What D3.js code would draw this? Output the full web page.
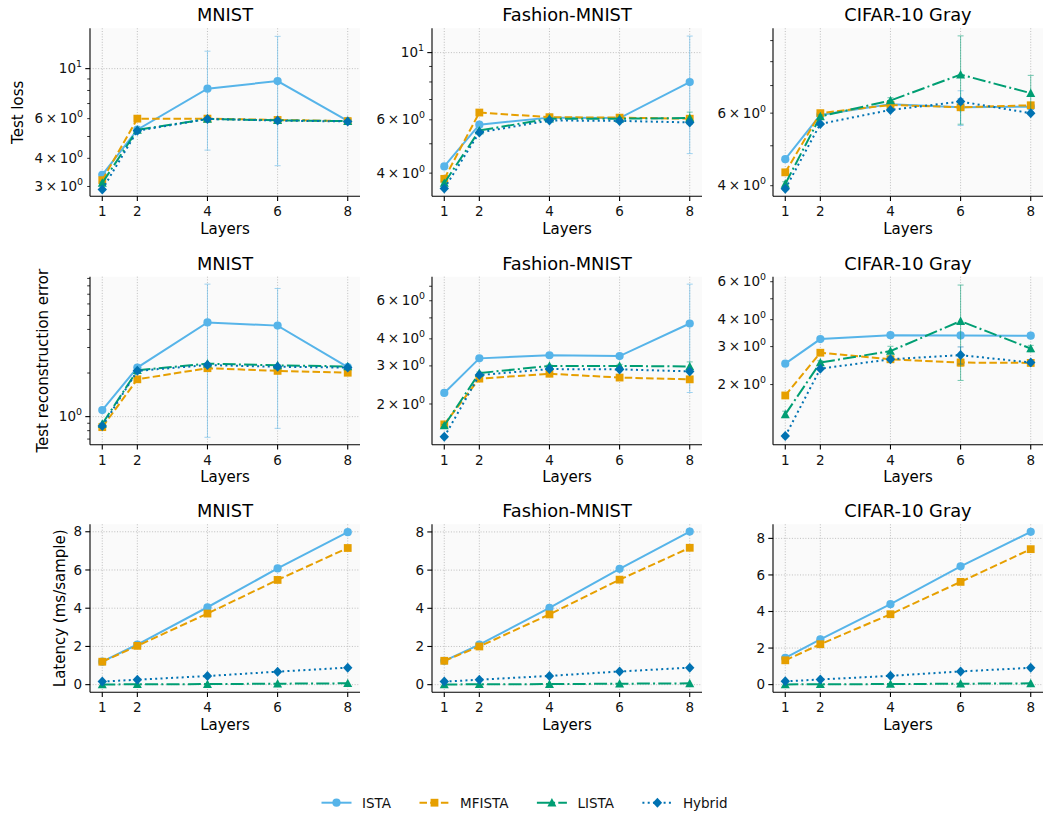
<!DOCTYPE html>
<html>
<head>
<meta charset="utf-8">
<script src="https://cdn.jsdelivr.net/npm/d3@7"></script>
<style>
  body { margin: 0; background: #fff; }
  svg { font-family: "DejaVu Sans", sans-serif; display: block; }
</style>
</head>
<body>
<svg id="chart" width="1049" height="815"></svg>
<script>
// x categories and series order
const layers = [1, 2, 4, 6, 8];
const methods = ['ISTA', 'MFISTA', 'LISTA', 'Hybrid'];
const colors = ['#56B4E9', '#E69F00', '#009E73', '#0072B2'];
const datasets = ['MNIST', 'Fashion-MNIST', 'CIFAR-10 Gray'];
const rowLabels = ['Test loss', 'Test reconstruction error', 'Latency (ms/sample)'];

// Test loss (rows: ISTA, MFISTA, LISTA, Hybrid)
const mnistLoss = [
  [3.38, 5.36, 8.15, 8.81, 5.86],
  [3.20, 6.00, 6.00, 5.92, 5.85],
  [3.11, 5.35, 5.98, 5.90, 5.85],
  [2.91, 5.30, 5.98, 5.88, 5.83]
];
const mnistLossErr = [
  [0.05, 0.10, 3.80, 5.10, 0.10],
  [0.03, 0.05, 0.05, 0.05, 0.05],
  [0.03, 0.05, 0.05, 0.05, 0.05],
  [0.03, 0.05, 0.05, 0.05, 0.05]
];
const fashionLoss = [
  [4.21, 5.78, 6.10, 6.08, 7.99],
  [3.83, 6.34, 6.12, 6.10, 6.05],
  [3.71, 5.53, 6.05, 6.05, 6.08],
  [3.56, 5.45, 5.97, 5.95, 5.88]
];
const fashionLossErr = [
  [0.05, 0.10, 0.05, 0.05, 3.35],
  [0.03, 0.05, 0.05, 0.05, 0.05],
  [0.03, 0.05, 0.05, 0.05, 0.28],
  [0.03, 0.05, 0.05, 0.05, 0.05]
];
const cifarLoss = [
  [4.64, 5.94, 6.31, 6.20, 6.22],
  [4.31, 6.00, 6.28, 6.20, 6.27],
  [4.04, 5.89, 6.44, 7.44, 6.71],
  [3.93, 5.65, 6.11, 6.40, 6.00]
];
const cifarLossErr = [
  [0.03, 0.05, 0.05, 0.60, 0.05],
  [0.03, 0.05, 0.05, 0.10, 0.05],
  [0.05, 0.05, 0.10, 1.80, 0.70],
  [0.03, 0.05, 0.05, 0.10, 0.05]
];

// Test reconstruction error
const mnistRecon = [
  [1.11, 2.18, 4.47, 4.25, 2.20],
  [0.846, 1.81, 2.16, 2.07, 2.01],
  [0.89, 2.09, 2.32, 2.26, 2.22],
  [0.86, 2.07, 2.27, 2.21, 2.18]
];
const mnistReconErr = [
  [0.02, 0.05, 3.75, 3.42, 0.05],
  [0.01, 0.03, 0.03, 0.03, 0.03],
  [0.01, 0.03, 0.03, 0.03, 0.03],
  [0.01, 0.03, 0.03, 0.03, 0.03]
];
const fashionRecon = [
  [2.25, 3.25, 3.36, 3.33, 4.71],
  [1.61, 2.62, 2.76, 2.65, 2.60],
  [1.59, 2.78, 3.00, 3.00, 2.98],
  [1.41, 2.72, 2.90, 2.89, 2.83]
];
const fashionReconErr = [
  [0.02, 0.03, 0.03, 0.03, 2.45],
  [0.02, 0.03, 0.03, 0.03, 0.03],
  [0.02, 0.03, 0.03, 0.05, 0.15],
  [0.02, 0.03, 0.03, 0.03, 0.03]
];
const cifarRecon = [
  [2.50, 3.25, 3.39, 3.38, 3.37],
  [1.78, 2.81, 2.62, 2.53, 2.52],
  [1.455, 2.53, 2.86, 3.94, 2.94],
  [1.153, 2.37, 2.62, 2.74, 2.53]
];
const cifarReconErr = [
  [0.02, 0.03, 0.03, 0.03, 0.03],
  [0.02, 0.03, 0.03, 0.10, 0.03],
  [0.05, 0.05, 0.15, 1.85, 0.10],
  [0.02, 0.03, 0.03, 0.25, 0.03]
];

// Latency (ms/sample)
const mnistLat = [
  [1.20, 2.10, 4.05, 6.08, 7.98],
  [1.20, 2.03, 3.72, 5.48, 7.15],
  [0.01, 0.02, 0.03, 0.05, 0.07],
  [0.16, 0.26, 0.45, 0.68, 0.89]
];
const fashionLat = [
  [1.25, 2.10, 4.02, 6.07, 8.02],
  [1.25, 2.00, 3.68, 5.50, 7.17],
  [0.01, 0.02, 0.03, 0.05, 0.07],
  [0.16, 0.26, 0.46, 0.69, 0.89]
];
const cifarLat = [
  [1.46, 2.48, 4.40, 6.47, 8.36],
  [1.33, 2.21, 3.85, 5.62, 7.41],
  [0.01, 0.02, 0.03, 0.05, 0.07],
  [0.18, 0.28, 0.48, 0.72, 0.92]
];

// y tick setup per panel
const latTicks = [0, 2, 4, 6, 8];

const panels = [
  { row: 0, col: 0, data: mnistLoss, err: mnistLossErr, log: true, domain: [2.714, 15.1],
    labels: [3, 4, 6, 10], minor: [3, 4, 5, 6, 7, 8, 9] },
  { row: 0, col: 1, data: fashionLoss, err: fashionLossErr, log: true, domain: [3.354, 12.03],
    labels: [4, 6, 10], minor: [4, 5, 6, 7, 8, 9] },
  { row: 0, col: 2, data: cifarLoss, err: cifarLossErr, log: true, domain: [3.77, 9.64],
    labels: [4, 6], minor: [4, 5, 6, 7, 8, 9] },
  { row: 1, col: 0, data: mnistRecon, err: mnistReconErr, log: true, domain: [0.64, 9.25],
    labels: [1], minor: [0.7, 0.8, 0.9, 2, 3, 4, 5, 6, 7, 8, 9] },
  { row: 1, col: 1, data: fashionRecon, err: fashionReconErr, log: true, domain: [1.297, 7.75],
    labels: [2, 3, 4, 6], minor: [2, 3, 4, 5, 6, 7] },
  { row: 1, col: 2, data: cifarRecon, err: cifarReconErr, log: true, domain: [1.052, 6.33],
    labels: [2, 3, 4, 6], minor: [2, 3, 4, 5, 6] },
  { row: 2, col: 0, data: mnistLat, err: null, log: false, domain: [-0.40, 8.39] },
  { row: 2, col: 1, data: fashionLat, err: null, log: false, domain: [-0.40, 8.40] },
  { row: 2, col: 2, data: cifarLat, err: null, log: false, domain: [-0.42, 8.77] }
];

// layout
const lefts = [90, 432, 773];
const tops = [28.3, 276.7, 524.3];
const pw = 270, ph = 168;
const tickFont = 13.5, labelFont = 15, titleFont = 17.8;
const dashes = [null, '7.5,3.2', '13,3.2,2,3.2', '2,3.3'];

const svg = d3.select('#chart');

// marker shapes
function marker(g, i, x, y) {
  const c = colors[i];
  if (i === 0) {
    g.append('circle').attr('cx', x).attr('cy', y).attr('r', 4.1).attr('fill', c);
  } else if (i === 1) {
    g.append('rect').attr('x', x - 3.9).attr('y', y - 3.9).attr('width', 7.8).attr('height', 7.8).attr('fill', c);
  } else if (i === 2) {
    g.append('path').attr('d', `M${x},${y - 4.6}L${x + 4.5},${y + 3.8}L${x - 4.5},${y + 3.8}Z`).attr('fill', c);
  } else {
    g.append('path').attr('d', `M${x},${y - 5}L${x + 4.7},${y}L${x},${y + 5}L${x - 4.7},${y}Z`).attr('fill', c);
  }
}

// tick label text like "6 × 10^0"
function logLabel(g, v, x, y) {
  const e = Math.floor(Math.log10(v) + 1e-9);
  const m = Math.round(v / Math.pow(10, e));
  const t = g.append('text').attr('x', x).attr('y', y + 4.6)
    .attr('text-anchor', 'end').attr('font-size', tickFont).attr('fill', '#111');
  t.append('tspan').text(m === 1 ? '10' : m + '\u2009\u00d7\u200910');
  t.append('tspan').attr('dy', -6).attr('font-size', tickFont * 0.7).text(e);
}

panels.forEach(p => {
  const left = lefts[p.col], top = tops[p.row];
  const right = left + pw, bottom = top + ph;
  const g = svg.append('g');

  const x = d3.scaleLinear().domain([0.65, 8.35]).range([left, right]);
  const y = (p.log ? d3.scaleLog() : d3.scaleLinear()).domain(p.domain).range([bottom, top]);

  g.append('rect').attr('x', left).attr('y', top).attr('width', pw).attr('height', ph).attr('fill', '#fafafa');

  // major y ticks (powers of 10 for log)
  let majors;
  if (p.log) {
    majors = [0.1, 1, 10, 100].filter(v => v >= p.domain[0] && v <= p.domain[1]);
  } else {
    majors = latTicks;
  }

  // grid
  layers.forEach(l => {
    g.append('line').attr('x1', x(l)).attr('x2', x(l)).attr('y1', top).attr('y2', bottom)
      .attr('stroke', '#b0b0b0').attr('stroke-width', 0.8).attr('stroke-dasharray', '1,1.7');
  });
  majors.forEach(v => {
    g.append('line').attr('x1', left).attr('x2', right).attr('y1', y(v)).attr('y2', y(v))
      .attr('stroke', '#b0b0b0').attr('stroke-width', 0.8).attr('stroke-dasharray', '1,1.7');
  });

  // series
  p.data.forEach((vals, i) => {
    const c = colors[i];
    if (p.err) {
      vals.forEach((v, j) => {
        const e = p.err[i][j];
        const lo = y(v - e), hi = y(v + e), xx = x(layers[j]);
        const eg = g.append('g').attr('stroke', c).attr('stroke-width', 1).attr('opacity', 0.55);
        eg.append('line').attr('x1', xx).attr('x2', xx).attr('y1', lo).attr('y2', hi);
        eg.append('line').attr('x1', xx - 3).attr('x2', xx + 3).attr('y1', lo).attr('y2', lo);
        eg.append('line').attr('x1', xx - 3).attr('x2', xx + 3).attr('y1', hi).attr('y2', hi);
      });
    }
    const line = d3.line().x((d, j) => x(layers[j])).y(d => y(d));
    g.append('path').attr('d', line(vals)).attr('fill', 'none').attr('stroke', c)
      .attr('stroke-width', 2).attr('stroke-dasharray', dashes[i]);
    vals.forEach((v, j) => marker(g, i, x(layers[j]), y(v)));
  });

  // spines
  g.append('line').attr('x1', left).attr('x2', left).attr('y1', top).attr('y2', bottom)
    .attr('stroke', '#000').attr('stroke-width', 1.1);
  g.append('line').attr('x1', left).attr('x2', right).attr('y1', bottom).attr('y2', bottom)
    .attr('stroke', '#000').attr('stroke-width', 1.1);

  // x ticks
  layers.forEach(l => {
    g.append('line').attr('x1', x(l)).attr('x2', x(l)).attr('y1', bottom).attr('y2', bottom + 4.7)
      .attr('stroke', '#000').attr('stroke-width', 1.1);
    g.append('text').attr('x', x(l)).attr('y', bottom + 20).attr('text-anchor', 'middle')
      .attr('font-size', tickFont).attr('fill', '#111').text(l);
  });

  // y ticks
  majors.forEach(v => {
    g.append('line').attr('x1', left - 4.7).attr('x2', left).attr('y1', y(v)).attr('y2', y(v))
      .attr('stroke', '#000').attr('stroke-width', 1.1);
    if (p.log) logLabel(g, v, left - 8, y(v));
    else g.append('text').attr('x', left - 8).attr('y', y(v) + 4.7).attr('text-anchor', 'end')
      .attr('font-size', tickFont).attr('fill', '#111').text(v);
  });
  if (p.log) {
    p.minor.forEach(v => {
      g.append('line').attr('x1', left - 2.8).attr('x2', left).attr('y1', y(v)).attr('y2', y(v))
        .attr('stroke', '#000').attr('stroke-width', 0.8);
      if (p.labels.includes(v) && !majors.includes(v)) logLabel(g, v, left - 7, y(v));
    });
  }

  // title and labels
  g.append('text').attr('x', left + pw / 2).attr('y', top - 7).attr('text-anchor', 'middle')
    .attr('font-size', titleFont).attr('fill', '#000').text(datasets[p.col]);
  g.append('text').attr('x', left + pw / 2).attr('y', bottom + 37.5).attr('text-anchor', 'middle')
    .attr('font-size', labelFont).attr('fill', '#000').text('Layers');
});

// row y labels
const yLabelX = [18, 43, 60];
rowLabels.forEach((t, r) => {
  svg.append('text')
    .attr('transform', `translate(${yLabelX[r]},${tops[r] + ph / 2}) rotate(-90)`)
    .attr('text-anchor', 'middle').attr('dy', '0.35em')
    .attr('font-size', labelFont).attr('fill', '#000').text(t);
});

// legend
const leg = svg.append('g');
let lx = 0;
const ly = 802.7;
methods.forEach((m, i) => {
  const item = leg.append('g').attr('transform', `translate(${lx},0)`);
  item.append('line').attr('x1', 0).attr('x2', 30).attr('y1', ly).attr('y2', ly)
    .attr('stroke', colors[i]).attr('stroke-width', 2).attr('stroke-dasharray', dashes[i]);
  marker(item, i, 15, ly);
  const t = item.append('text').attr('x', 40.5).attr('y', ly + 4.8)
    .attr('font-size', tickFont).attr('fill', '#111').text(m);
  lx += 40.5 + t.node().getComputedTextLength() + 28.5;
});
const legW = lx - 28.5;
leg.attr('transform', `translate(${(1049 - legW) / 2},0)`);
</script>
</body>
</html>
